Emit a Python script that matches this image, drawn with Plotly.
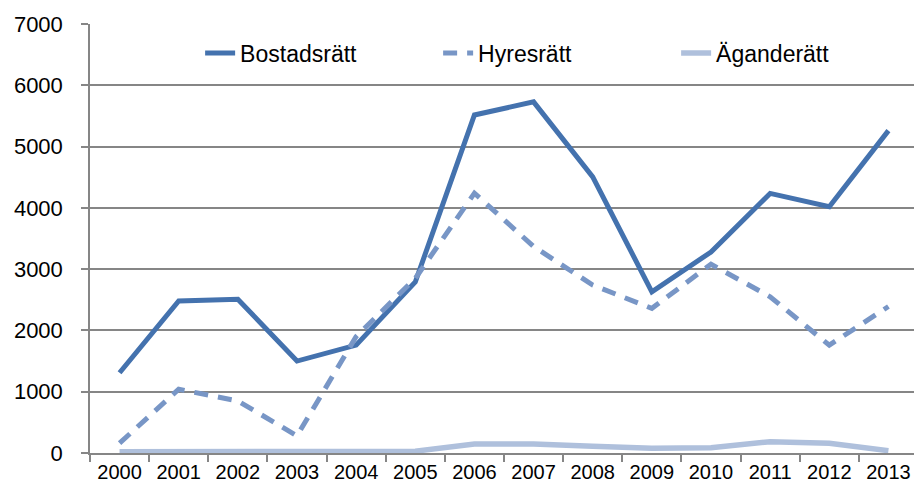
import plotly.graph_objects as go

years = ["2000", "2001", "2002", "2003", "2004", "2005", "2006",
         "2007", "2008", "2009", "2010", "2011", "2012", "2013"]
bostadsratt = [1310, 2480, 2510, 1500, 1760, 2790, 5515, 5730, 4505, 2630, 3280, 4236, 4018, 5260]
hyresratt = [160, 1040, 850, 280, 1900, 2850, 4240, 3370, 2740, 2360, 3080, 2550, 1760, 2390]
aganderatt = [20, 20, 30, 25, 15, 30, 145, 145, 112, 76, 87, 185, 158, 38]

y_ticks = [0, 1000, 2000, 3000, 4000, 5000, 6000, 7000]

fig = go.Figure()
fig.add_trace(go.Scatter(x=years, y=bostadsratt, name="Bostadsrätt", mode="lines",
                         line=dict(color="#4472AE", width=5)))
fig.add_trace(go.Scatter(x=years, y=hyresratt, name="Hyresrätt", mode="lines",
                         line=dict(color="#7896C6", width=5, dash="14px,10px")))
fig.add_trace(go.Scatter(x=years, y=aganderatt, name="Äganderätt", mode="lines",
                         line=dict(color="#AFC0DC", width=5.5)))

fig.update_layout(
    width=914, height=485,
    margin=dict(l=82, r=4, t=16, b=40),
    paper_bgcolor="white", plot_bgcolor="white",
    font=dict(family="Liberation Sans, Arial, sans-serif", color="black"),
    legend=dict(orientation="h", x=0.133, y=0.932, xanchor="left", yanchor="middle",
                font=dict(size=23), entrywidth=193, entrywidthmode="pixels",
                bgcolor="rgba(0,0,0,0)"),
    xaxis=dict(type="category", range=[-0.5, 13.5], tickson="boundaries", ticks="outside",
               ticklen=7, tickcolor="#868686", tickwidth=1.5, showline=True,
               linecolor="#868686", linewidth=1.5, showgrid=False,
               tickfont=dict(size=20), fixedrange=True),
    yaxis=dict(range=[0, 7000], tickvals=y_ticks, ticks="outside", ticklen=7,
               tickcolor="#868686", tickwidth=1.5, showline=True, linecolor="#868686",
               linewidth=1.5, showgrid=True, gridcolor="#868686", gridwidth=1.5,
               tickfont=dict(size=22), ticklabelstandoff=14, zeroline=False,
               fixedrange=True),
)

fig.write_html("out.html")
